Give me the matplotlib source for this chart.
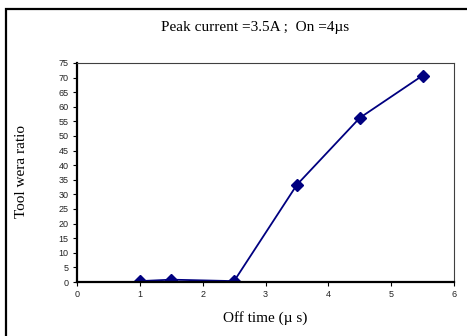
import matplotlib
matplotlib.use("Agg")
import matplotlib.pyplot as plt
from matplotlib.patches import Rectangle

off_time = [1, 1.5, 2.5, 3.5, 4.5, 5.5]
tool_wear = [0.3, 0.8, 0.3, 33.3, 56.2, 70.7]
x_ticks = [0, 1, 2, 3, 4, 5, 6]
y_ticks = list(range(0, 80, 5))

fig = plt.figure(figsize=(4.67, 3.36), dpi=100)
fig.patches.append(Rectangle((6 / 467, -0.1), 1.2, 1.1 - 9 / 336, transform=fig.transFigure,
                             fill=False, ec="black", lw=1.6))

ax = fig.add_axes([77 / 467, 54 / 336, 377 / 467, 219 / 336])
ax.plot(off_time, tool_wear, color="#000080", lw=1.3, marker="D", ms=6,
        mfc="#000080", mec="#000080")
ax.set_xlim(0, 6)
ax.set_ylim(0, 75)
ax.set_xticks(x_ticks)
ax.set_yticks(y_ticks)
ax.tick_params(labelsize=6.5, length=3, width=0.8, pad=3, labelcolor="#222222")
for lab in ax.get_xticklabels() + ax.get_yticklabels():
    lab.set_family("Liberation Sans")
for s in ["left", "bottom"]:
    ax.spines[s].set_linewidth(1.6)
for s in ["top", "right"]:
    ax.spines[s].set_linewidth(0.8)
    ax.spines[s].set_color("#404040")

serif = "Liberation Serif"
fig.text(255 / 467, 1 - 27 / 336, "Peak current =3.5A ;  On =4µs", family=serif,
         fontsize=11, ha="center", va="center")
fig.text(265 / 467, 1 - 318 / 336, "Off time (µ s)", family=serif,
         fontsize=11, ha="center", va="center")
fig.text(22 / 467, 1 - 172 / 336, "Tool wera ratio", family=serif,
         fontsize=11, ha="center", va="center", rotation=90)

fig.savefig("out.png", dpi=100)
